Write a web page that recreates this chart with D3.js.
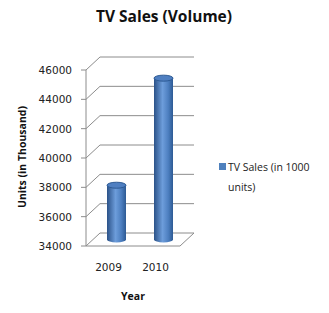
<!DOCTYPE html>
<html>
<head>
<meta charset="utf-8">
<script src="https://cdn.jsdelivr.net/npm/d3@7"></script>
<style>
  body { margin: 0; background: #fff; }
  svg { display: block; }
</style>
</head>
<body>
<div id="chart"></div>
<script>
const years = ["2009", "2010"];
const sales = [37700, 45000];
const yTicks = [34000, 36000, 38000, 40000, 42000, 44000, 46000];
const seriesName = "TV Sales (in 1000 units)";

const width = 329, height = 313;
const depth = { dx: 14, dy: -13 };

const svg = d3.select("#chart").append("svg")
  .attr("width", width)
  .attr("height", height);

const x = d3.scaleBand().domain(years).range([86, 180]);
const y = d3.scaleLinear().domain([34000, 46000]).range([246, 70]);

const defs = svg.append("defs");
const grad = defs.append("linearGradient").attr("id", "cyl")
  .attr("x1", "0%").attr("x2", "100%").attr("y1", "0%").attr("y2", "0%");
grad.append("stop").attr("offset", "0%").attr("stop-color", "#2b5288");
grad.append("stop").attr("offset", "45%").attr("stop-color", "#6d9ddb");
grad.append("stop").attr("offset", "75%").attr("stop-color", "#4d7fc0");
grad.append("stop").attr("offset", "100%").attr("stop-color", "#2d5a94");

// gridlines on side and back wall
const grid = svg.append("g").attr("stroke", "#8c8c8c").attr("fill", "none");
grid.selectAll("path.grid")
  .data(yTicks)
  .join("path")
  .attr("class", "grid")
  .attr("d", d => `M${x.range()[0]},${y(d)}l${depth.dx},${depth.dy}H${x.range()[1] + depth.dx}`);

// floor
const x0 = x.range()[0], x1 = x.range()[1], yb = y(34000);
grid.append("path")
  .attr("d", `M${x0},${yb}H${x1}l${depth.dx},${depth.dy}`);

// axis line and ticks
svg.append("line")
  .attr("x1", x0).attr("x2", x0)
  .attr("y1", y(46000)).attr("y2", yb)
  .attr("stroke", "#8c8c8c");

svg.append("g").selectAll("line")
  .data(yTicks)
  .join("line")
  .attr("x1", x0 - 5).attr("x2", x0)
  .attr("y1", d => y(d)).attr("y2", d => y(d))
  .attr("stroke", "#8c8c8c");

svg.append("g").selectAll("text")
  .data(yTicks)
  .join("text")
  .attr("x", 72)
  .attr("y", d => y(d) + 4)
  .attr("text-anchor", "end")
  .attr("font-family", "DejaVu Sans")
  .attr("font-size", 10.5)
  .attr("fill", "#222")
  .text(d => d);

svg.append("g").selectAll("text")
  .data(years)
  .join("text")
  .attr("x", d => x(d) + x.bandwidth() / 2 - 1)
  .attr("y", 271)
  .attr("text-anchor", "middle")
  .attr("font-family", "DejaVu Sans")
  .attr("font-size", 10.5)
  .attr("fill", "#222")
  .text(d => d);

// cylinders
const r = 9.5, ry = 3;
const bars = svg.append("g").selectAll("g")
  .data(years.map((d, i) => ({ year: d, value: sales[i] })))
  .join("g")
  .attr("transform", d => `translate(${x(d.year) + x.bandwidth() / 2 + depth.dx / 2},${depth.dy / 2})`);

bars.append("path")
  .attr("d", d => {
    const top = y(d.value), bot = y(34000);
    return `M${-r},${top}V${bot}A${r},${ry} 0 0 0 ${r},${bot}V${top}Z`;
  })
  .attr("fill", "url(#cyl)");

bars.append("ellipse")
  .attr("cx", 0)
  .attr("cy", d => y(d.value))
  .attr("rx", r)
  .attr("ry", ry)
  .attr("fill", "#4f7fc1")
  .attr("stroke", "#2d5a94")
  .attr("stroke-width", 1);

// title and axis titles
svg.append("text")
  .attr("x", 164).attr("y", 22)
  .attr("text-anchor", "middle")
  .attr("font-family", "Open Sans")
  .attr("font-weight", "bold")
  .attr("font-size", 15.5)
  .attr("fill", "#111")
  .text("TV Sales (Volume)");

svg.append("text")
  .attr("transform", "translate(26,157) rotate(-90)")
  .attr("text-anchor", "middle")
  .attr("font-family", "Open Sans")
  .attr("font-weight", "bold")
  .attr("font-size", 10.5)
  .attr("fill", "#111")
  .text("Units (in Thousand)");

svg.append("text")
  .attr("x", 133).attr("y", 300)
  .attr("text-anchor", "middle")
  .attr("font-family", "Open Sans")
  .attr("font-weight", "bold")
  .attr("font-size", 10.5)
  .attr("fill", "#111")
  .text("Year");

// legend
const legend = svg.append("g").attr("transform", "translate(219,163)");
legend.append("rect")
  .attr("width", 7).attr("height", 7)
  .attr("fill", "#4f81bd");
const words = seriesName.split(" ");
legend.append("text")
  .attr("font-family", "Open Sans")
  .attr("font-size", 10.5)
  .attr("fill", "#222")
  .selectAll("tspan")
  .data([words.slice(0, 4).join(" "), words.slice(4).join(" ")])
  .join("tspan")
  .attr("x", 9)
  .attr("y", (d, i) => 8 + i * 20)
  .text(d => d);
</script>
</body>
</html>
